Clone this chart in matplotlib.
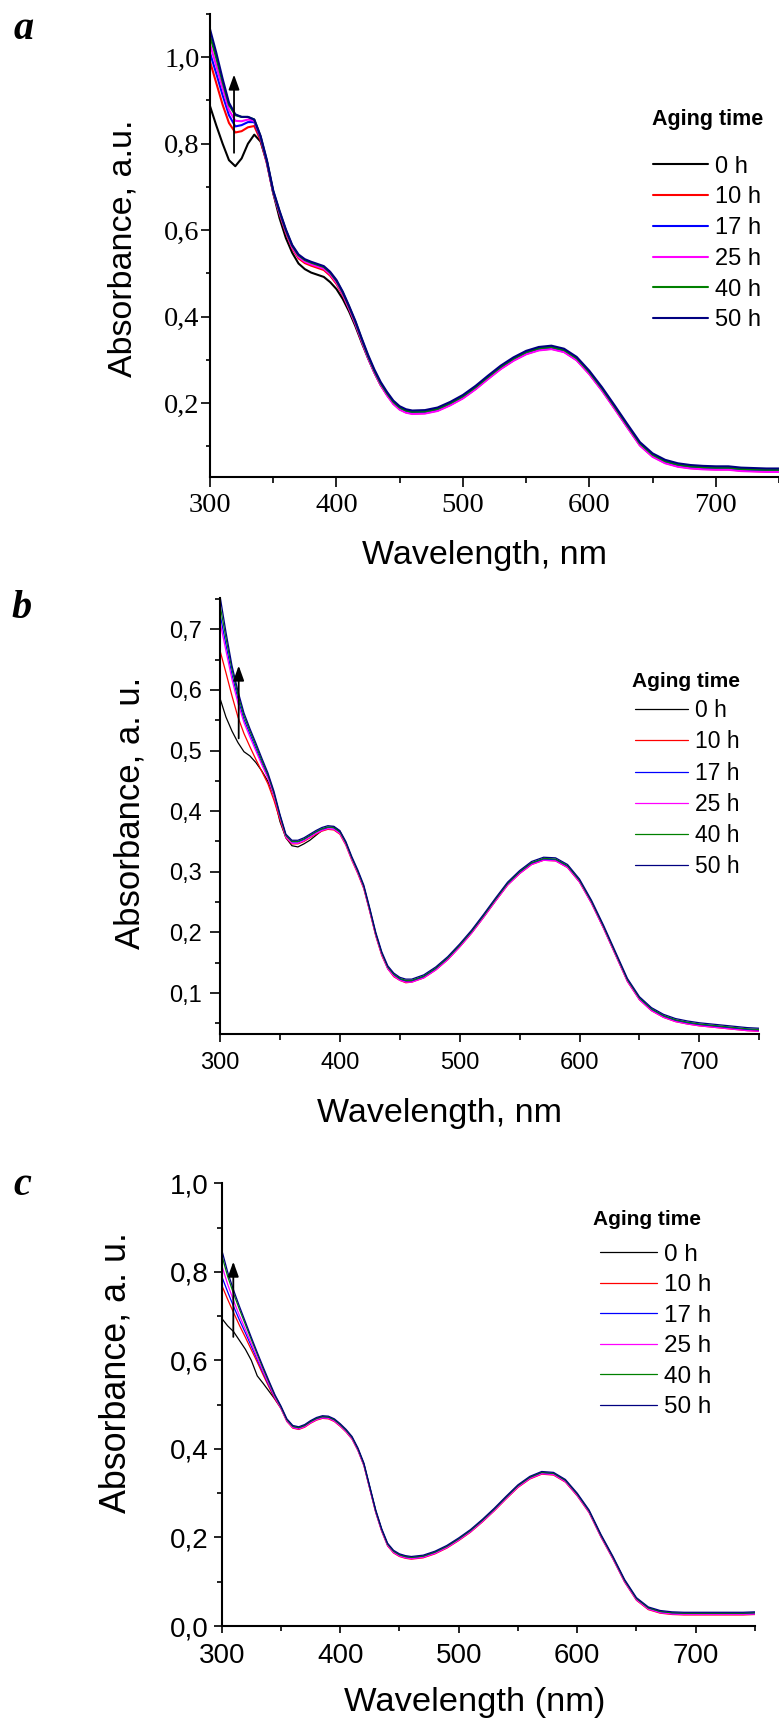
import matplotlib
matplotlib.use("Agg")
import matplotlib.pyplot as plt
from matplotlib.font_manager import FontProperties

# ---------------- data ----------------
wl = [300, 305, 310, 315, 320, 325, 330, 335, 340, 345,
      350, 355, 360, 365, 370, 375, 380, 385, 390, 395,
      400, 405, 410, 415, 420, 425, 430, 435, 440, 445, 450, 455, 460, 470,
      480, 490, 500, 510, 520, 530, 540, 550, 560, 570,
      580, 590, 600, 610, 620, 630, 640, 650, 660, 670,
      680, 690, 700, 710, 720, 730, 740, 750]

series_labels = ["0 h", "10 h", "17 h", "25 h", "40 h", "50 h"]
series_colors = ["#000000", "#FF0000", "#0000FF", "#FF00FF", "#008000", "#000080"]

# panel a
a_0h = [0.887, 0.842, 0.800, 0.762, 0.748, 0.766, 0.800, 0.821, 0.805, 0.758,
        0.686, 0.628, 0.582, 0.548, 0.523, 0.510, 0.502, 0.497, 0.492, 0.480,
        0.464, 0.441, 0.412, 0.378, 0.340, 0.304, 0.271, 0.242, 0.220, 0.200, 0.187, 0.180, 0.177, 0.178,
        0.184, 0.197, 0.213, 0.234, 0.258, 0.281, 0.300, 0.315, 0.324, 0.327,
        0.320, 0.301, 0.269, 0.231, 0.189, 0.146, 0.104, 0.078, 0.063, 0.055,
        0.051, 0.049, 0.048, 0.048, 0.045, 0.044, 0.043, 0.043]
a_10h = [0.990, 0.940, 0.890, 0.848, 0.826, 0.829, 0.838, 0.841, 0.808, 0.754,
         0.686, 0.638, 0.594, 0.558, 0.535, 0.524, 0.518, 0.513, 0.508, 0.495,
         0.476, 0.450, 0.418, 0.383, 0.343, 0.305, 0.271, 0.242, 0.219, 0.199, 0.186, 0.179, 0.176, 0.177,
         0.183, 0.196, 0.212, 0.233, 0.257, 0.280, 0.299, 0.314, 0.323, 0.326,
         0.319, 0.300, 0.268, 0.230, 0.188, 0.145, 0.103, 0.077, 0.062, 0.054,
         0.050, 0.048, 0.047, 0.047, 0.044, 0.043, 0.042, 0.042]
a_17h = [1.010, 0.962, 0.912, 0.866, 0.840, 0.843, 0.850, 0.850, 0.813, 0.757,
         0.688, 0.641, 0.598, 0.562, 0.540, 0.529, 0.523, 0.518, 0.513, 0.500,
         0.481, 0.454, 0.421, 0.386, 0.346, 0.307, 0.273, 0.244, 0.221, 0.201, 0.188, 0.181, 0.178, 0.179,
         0.185, 0.198, 0.214, 0.235, 0.259, 0.282, 0.301, 0.316, 0.325, 0.328,
         0.321, 0.302, 0.270, 0.232, 0.190, 0.147, 0.105, 0.079, 0.064, 0.056,
         0.052, 0.050, 0.049, 0.049, 0.046, 0.045, 0.044, 0.044]
a_25h = [1.030, 0.980, 0.928, 0.878, 0.853, 0.852, 0.856, 0.853, 0.815, 0.758,
         0.688, 0.640, 0.597, 0.560, 0.538, 0.527, 0.521, 0.516, 0.511, 0.498,
         0.479, 0.452, 0.419, 0.384, 0.344, 0.305, 0.271, 0.242, 0.218, 0.198, 0.185, 0.178, 0.175, 0.176,
         0.182, 0.195, 0.211, 0.232, 0.256, 0.279, 0.298, 0.313, 0.322, 0.325,
         0.318, 0.299, 0.267, 0.229, 0.187, 0.144, 0.102, 0.076, 0.061, 0.053,
         0.049, 0.047, 0.046, 0.046, 0.043, 0.042, 0.041, 0.041]
a_40h = [1.050, 0.998, 0.942, 0.890, 0.866, 0.862, 0.862, 0.856, 0.817, 0.760,
         0.690, 0.643, 0.600, 0.564, 0.542, 0.531, 0.525, 0.520, 0.515, 0.502,
         0.483, 0.456, 0.423, 0.388, 0.348, 0.309, 0.275, 0.246, 0.223, 0.203, 0.190, 0.183, 0.180, 0.181,
         0.187, 0.200, 0.216, 0.237, 0.261, 0.284, 0.303, 0.318, 0.327, 0.330,
         0.323, 0.304, 0.272, 0.234, 0.192, 0.149, 0.107, 0.081, 0.066, 0.058,
         0.054, 0.052, 0.051, 0.051, 0.048, 0.047, 0.046, 0.046]
a_50h = [1.065, 1.010, 0.950, 0.895, 0.868, 0.862, 0.862, 0.856, 0.818, 0.762,
         0.692, 0.645, 0.602, 0.566, 0.544, 0.533, 0.527, 0.522, 0.517, 0.504,
         0.485, 0.458, 0.425, 0.390, 0.350, 0.312, 0.278, 0.249, 0.226, 0.206, 0.193, 0.186, 0.183, 0.184,
         0.190, 0.203, 0.219, 0.240, 0.264, 0.287, 0.306, 0.321, 0.330, 0.333,
         0.326, 0.307, 0.275, 0.237, 0.195, 0.152, 0.110, 0.084, 0.069, 0.061,
         0.057, 0.055, 0.054, 0.054, 0.051, 0.050, 0.049, 0.049]

# panel b
b_0h = [0.586, 0.555, 0.532, 0.513, 0.498, 0.491, 0.480, 0.466, 0.449, 0.425,
        0.383, 0.356, 0.343, 0.341, 0.346, 0.352, 0.360, 0.368, 0.373, 0.374,
        0.367, 0.348, 0.322, 0.299, 0.274, 0.236, 0.196, 0.164, 0.141, 0.129, 0.122, 0.119, 0.119, 0.126,
        0.139, 0.156, 0.177, 0.200, 0.226, 0.253, 0.279, 0.298, 0.313, 0.320,
        0.319, 0.308, 0.284, 0.249, 0.208, 0.164, 0.120, 0.090, 0.072, 0.061,
        0.054, 0.050, 0.047, 0.045, 0.043, 0.041, 0.039, 0.038]
b_10h = [0.665, 0.628, 0.590, 0.555, 0.528, 0.506, 0.485, 0.465, 0.445, 0.418,
         0.386, 0.356, 0.346, 0.346, 0.350, 0.356, 0.362, 0.367, 0.370, 0.369,
         0.362, 0.344, 0.319, 0.297, 0.272, 0.234, 0.194, 0.162, 0.140, 0.127, 0.121, 0.117, 0.118, 0.125,
         0.138, 0.155, 0.176, 0.199, 0.225, 0.252, 0.278, 0.297, 0.312, 0.319,
         0.318, 0.307, 0.283, 0.248, 0.207, 0.163, 0.119, 0.089, 0.071, 0.060,
         0.053, 0.049, 0.046, 0.044, 0.042, 0.040, 0.038, 0.037]
b_17h = [0.725, 0.674, 0.625, 0.585, 0.551, 0.527, 0.503, 0.479, 0.457, 0.428,
         0.392, 0.359, 0.349, 0.349, 0.353, 0.359, 0.365, 0.370, 0.373, 0.372,
         0.365, 0.347, 0.322, 0.300, 0.275, 0.237, 0.197, 0.165, 0.142, 0.130, 0.123, 0.120, 0.120, 0.127,
         0.140, 0.157, 0.178, 0.201, 0.227, 0.254, 0.280, 0.299, 0.314, 0.321,
         0.320, 0.309, 0.285, 0.250, 0.209, 0.165, 0.121, 0.091, 0.073, 0.062,
         0.055, 0.051, 0.048, 0.046, 0.044, 0.042, 0.040, 0.039]
b_25h = [0.712, 0.664, 0.617, 0.578, 0.546, 0.522, 0.499, 0.476, 0.454, 0.425,
         0.390, 0.357, 0.347, 0.347, 0.351, 0.357, 0.363, 0.368, 0.371, 0.370,
         0.363, 0.345, 0.320, 0.298, 0.273, 0.235, 0.195, 0.163, 0.140, 0.128, 0.121, 0.118, 0.118, 0.125,
         0.138, 0.155, 0.176, 0.199, 0.225, 0.252, 0.278, 0.297, 0.312, 0.319,
         0.318, 0.307, 0.283, 0.248, 0.207, 0.163, 0.119, 0.089, 0.071, 0.060,
         0.053, 0.049, 0.046, 0.044, 0.042, 0.040, 0.038, 0.037]
b_40h = [0.740, 0.685, 0.634, 0.592, 0.557, 0.532, 0.508, 0.483, 0.460, 0.430,
         0.393, 0.360, 0.350, 0.350, 0.354, 0.360, 0.366, 0.371, 0.374, 0.373,
         0.366, 0.348, 0.323, 0.301, 0.276, 0.238, 0.198, 0.166, 0.143, 0.131, 0.124, 0.121, 0.121, 0.128,
         0.141, 0.158, 0.179, 0.202, 0.228, 0.255, 0.281, 0.300, 0.315, 0.322,
         0.321, 0.310, 0.286, 0.251, 0.210, 0.166, 0.122, 0.092, 0.074, 0.063,
         0.056, 0.052, 0.049, 0.047, 0.045, 0.043, 0.041, 0.040]
b_50h = [0.755, 0.695, 0.640, 0.598, 0.562, 0.536, 0.512, 0.487, 0.463, 0.433,
         0.395, 0.362, 0.352, 0.352, 0.356, 0.362, 0.368, 0.373, 0.376, 0.375,
         0.368, 0.350, 0.325, 0.303, 0.278, 0.240, 0.200, 0.168, 0.145, 0.133, 0.126, 0.123, 0.123, 0.130,
         0.143, 0.160, 0.181, 0.204, 0.230, 0.257, 0.283, 0.302, 0.317, 0.324,
         0.323, 0.312, 0.288, 0.253, 0.212, 0.168, 0.124, 0.094, 0.076, 0.065,
         0.058, 0.054, 0.051, 0.049, 0.047, 0.045, 0.043, 0.042]

# panel c
c_0h = [0.695, 0.678, 0.665, 0.645, 0.625, 0.600, 0.565, 0.548, 0.530, 0.512,
        0.493, 0.465, 0.449, 0.446, 0.452, 0.461, 0.468, 0.472, 0.471, 0.465,
        0.454, 0.441, 0.425, 0.399, 0.365, 0.312, 0.259, 0.217, 0.184, 0.168, 0.160, 0.156, 0.154, 0.157,
        0.166, 0.179, 0.196, 0.215, 0.238, 0.263, 0.290, 0.316, 0.335, 0.346,
        0.344, 0.328, 0.297, 0.259, 0.204, 0.155, 0.102, 0.061, 0.040, 0.032,
        0.029, 0.028, 0.028, 0.028, 0.028, 0.028, 0.028, 0.029]
c_10h = [0.770, 0.738, 0.708, 0.679, 0.652, 0.624, 0.596, 0.567, 0.539, 0.512,
         0.491, 0.462, 0.447, 0.444, 0.449, 0.458, 0.465, 0.469, 0.468, 0.462,
         0.451, 0.438, 0.422, 0.396, 0.362, 0.309, 0.256, 0.214, 0.181, 0.165, 0.157, 0.153, 0.151, 0.154,
         0.163, 0.176, 0.193, 0.212, 0.235, 0.260, 0.287, 0.313, 0.332, 0.343,
         0.341, 0.325, 0.294, 0.256, 0.201, 0.152, 0.099, 0.058, 0.037, 0.029,
         0.026, 0.025, 0.025, 0.025, 0.025, 0.025, 0.025, 0.026]
c_17h = [0.790, 0.755, 0.722, 0.691, 0.662, 0.632, 0.602, 0.572, 0.543, 0.515,
         0.493, 0.464, 0.449, 0.446, 0.451, 0.460, 0.467, 0.471, 0.470, 0.464,
         0.453, 0.440, 0.424, 0.398, 0.364, 0.311, 0.258, 0.216, 0.183, 0.167, 0.159, 0.155, 0.153, 0.156,
         0.165, 0.178, 0.195, 0.214, 0.237, 0.262, 0.289, 0.315, 0.334, 0.345,
         0.343, 0.327, 0.296, 0.258, 0.203, 0.154, 0.101, 0.060, 0.039, 0.031,
         0.028, 0.027, 0.027, 0.027, 0.027, 0.027, 0.027, 0.028]
c_25h = [0.815, 0.772, 0.735, 0.701, 0.670, 0.638, 0.606, 0.575, 0.545, 0.516,
         0.492, 0.463, 0.448, 0.445, 0.450, 0.459, 0.466, 0.470, 0.469, 0.463,
         0.452, 0.439, 0.423, 0.397, 0.363, 0.310, 0.257, 0.215, 0.182, 0.166, 0.158, 0.154, 0.152, 0.155,
         0.164, 0.177, 0.194, 0.213, 0.236, 0.261, 0.288, 0.314, 0.333, 0.344,
         0.342, 0.326, 0.295, 0.257, 0.202, 0.153, 0.100, 0.059, 0.038, 0.030,
         0.027, 0.026, 0.026, 0.026, 0.026, 0.026, 0.026, 0.027]
c_40h = [0.838, 0.790, 0.751, 0.715, 0.681, 0.647, 0.614, 0.581, 0.550, 0.520,
         0.495, 0.466, 0.451, 0.448, 0.453, 0.462, 0.469, 0.473, 0.472, 0.466,
         0.455, 0.442, 0.426, 0.400, 0.366, 0.313, 0.260, 0.218, 0.185, 0.169, 0.161, 0.157, 0.155, 0.158,
         0.167, 0.180, 0.197, 0.216, 0.239, 0.264, 0.291, 0.317, 0.336, 0.347,
         0.345, 0.329, 0.298, 0.260, 0.205, 0.156, 0.103, 0.062, 0.041, 0.033,
         0.030, 0.029, 0.029, 0.029, 0.029, 0.029, 0.029, 0.030]
c_50h = [0.850, 0.800, 0.759, 0.722, 0.687, 0.652, 0.618, 0.585, 0.553, 0.522,
         0.497, 0.468, 0.453, 0.450, 0.455, 0.464, 0.471, 0.475, 0.474, 0.468,
         0.457, 0.444, 0.428, 0.402, 0.368, 0.315, 0.262, 0.220, 0.187, 0.171, 0.163, 0.159, 0.157, 0.160,
         0.169, 0.182, 0.199, 0.218, 0.241, 0.266, 0.293, 0.319, 0.338, 0.349,
         0.347, 0.331, 0.300, 0.262, 0.207, 0.158, 0.105, 0.064, 0.043, 0.035,
         0.032, 0.031, 0.031, 0.031, 0.031, 0.031, 0.031, 0.032]

x_ticks = [300, 400, 500, 600, 700]
x_ticklabels = ["300", "400", "500", "600", "700"]
x_minor = [350, 450, 550, 650, 750]

a_yticks = [0.2, 0.4, 0.6, 0.8, 1.0]
a_yticklabels = ["0,2", "0,4", "0,6", "0,8", "1,0"]
a_yminor = [0.1, 0.3, 0.5, 0.7, 0.9, 1.1]
b_yticks = [0.1, 0.2, 0.3, 0.4, 0.5, 0.6, 0.7]
b_yticklabels = ["0,1", "0,2", "0,3", "0,4", "0,5", "0,6", "0,7"]
b_yminor = [0.05, 0.15, 0.25, 0.35, 0.45, 0.55, 0.65, 0.75]
c_yticks = [0.0, 0.2, 0.4, 0.6, 0.8, 1.0]
c_yticklabels = ["0,0", "0,2", "0,4", "0,6", "0,8", "1,0"]
c_yminor = [0.1, 0.3, 0.5, 0.7, 0.9]

# ---------------- layout helpers ----------------
W, H = 779.0, 1722.0
fig = plt.figure(figsize=(7.79, 17.22), dpi=100)


def fx(px):
    return px / W


def fy(py):
    return 1.0 - py / H


def rect(l, r, t, b):
    return [l / W, 1 - b / H, (r - l) / W, (b - t) / H]


SANS = "Liberation Sans"
SERIF = "Liberation Serif"


def panel(r, xlim, ylim, series, lw, yt, ytl, ymin, tickfont, ticksize,
          ypad, xpad, ymaj, ymi, xmaj, xmi):
    ax = fig.add_axes(rect(*r))
    lines = []
    for vals, col, lab in zip(series, series_colors, series_labels):
        ln, = ax.plot(wl, vals, color=col, lw=lw, label=lab,
                      solid_joinstyle="round", solid_capstyle="round")
        lines.append(ln)
    ax.set_xlim(*xlim)
    ax.set_ylim(*ylim)
    for s in ("top", "right"):
        ax.spines[s].set_visible(False)
    for s in ("left", "bottom"):
        ax.spines[s].set_linewidth(1.5)
    ax.set_xticks(x_ticks)
    ax.set_xticklabels(x_ticklabels)
    ax.set_xticks(x_minor, minor=True)
    ax.set_yticks(yt)
    ax.set_yticklabels(ytl)
    ax.set_yticks(ymin, minor=True)
    ax.tick_params(axis="both", which="both", direction="out", width=1.2)
    ax.tick_params(axis="y", which="major", length=ymaj, pad=ypad)
    ax.tick_params(axis="y", which="minor", length=ymi)
    ax.tick_params(axis="x", which="major", length=xmaj, pad=xpad)
    ax.tick_params(axis="x", which="minor", length=xmi)
    for t in ax.get_xticklabels() + ax.get_yticklabels():
        t.set_fontfamily(tickfont)
        t.set_fontsize(ticksize)
    return ax, lines


def ylabel(ax, text, x_base, y_center, size):
    ax.set_ylabel(text, fontfamily=SANS, fontsize=size,
                  va="baseline", ha="center", rotation=90, rotation_mode="anchor")
    ax.yaxis.set_label_coords(fx(x_base), fy(y_center), transform=fig.transFigure)


def xlabel(ax, text, x_left, y_top, size):
    ax.set_xlabel(text, fontfamily=SANS, fontsize=size, ha="left", va="top")
    ax.xaxis.set_label_coords(fx(x_left), fy(y_top), transform=fig.transFigure)


def legend(ax, lines, x_left, y_center, size, spacing, title, tx, ty, tsize):
    ax.legend(lines, series_labels, loc="center left",
              bbox_to_anchor=(fx(x_left), fy(y_center)), bbox_transform=fig.transFigure,
              frameon=False, borderpad=0, borderaxespad=0, handlelength=2.33,
              handletextpad=0.3, labelspacing=spacing,
              prop=FontProperties(family=SANS, size=size))
    fig.text(fx(tx), fy(ty), title, fontfamily=SANS, fontweight="bold",
             fontsize=tsize, ha="left", va="baseline")


def arrow(ax, x, y0, y1):
    ax.annotate("", xy=(x, y1), xytext=(x, y0),
                arrowprops=dict(arrowstyle="-|>,head_length=0.5,head_width=0.18",
                                color="black", lw=1.3, shrinkA=0, shrinkB=0,
                                mutation_scale=18))


# ---------------- panel a ----------------
ax_a, lines_a = panel((210, 779, 14, 476.7), (300, 748.5), (0.03, 1.1),
                      [a_0h, a_10h, a_17h, a_25h, a_40h, a_50h], 1.5,
                      a_yticks, a_yticklabels, a_yminor, SERIF, 20.5,
                      0.8, 4.7, 6.5, 3.0, 7.2, 4.3)
ylabel(ax_a, "Absorbance, a.u.", 132, 248.4, 24.5)
xlabel(ax_a, "Wavelength, nm", 362, 540, 24.5)
legend(ax_a, lines_a, 653, 243.4, 17, 0.37, "Aging time", 651.7, 125, 15.5)
arrow(ax_a, 319, 0.779, 0.96)

# ---------------- panel b ----------------
ax_b, lines_b = panel((220, 759.3, 598.3, 1034.3), (300, 750), (0.032, 0.751),
                      [b_0h, b_10h, b_17h, b_25h, b_40h, b_50h], 0.9,
                      b_yticks, b_yticklabels, b_yminor, SANS, 17,
                      6.0, 7.0, 7.2, 3.6, 6.0, 4.5)
ylabel(ax_b, "Absorbance, a. u.", 139, 813.3, 25)
xlabel(ax_b, "Wavelength, nm", 316.7, 1098.3, 24.5)
legend(ax_b, lines_b, 635, 788.7, 16.5, 0.36, "Aging time", 631.7, 686.7, 15)
arrow(ax_b, 315.6, 0.520, 0.640)

# ---------------- panel c ----------------
ax_c, lines_c = panel((221.7, 755, 1183.3, 1626), (300, 750), (0.0, 1.0),
                      [c_0h, c_10h, c_17h, c_25h, c_40h, c_50h], 0.9,
                      c_yticks, c_yticklabels, c_yminor, SANS, 20,
                      3.6, 7.2, 6.0, 3.6, 5.3, 3.6)
ylabel(ax_c, "Absorbance, a. u.", 126, 1372.5, 25.8)
xlabel(ax_c, "Wavelength (nm)", 344.5, 1686.7, 24.8)
legend(ax_c, lines_c, 600, 1331, 17.5, 0.35, "Aging time", 593.3, 1225, 15)
arrow(ax_c, 309.8, 0.653, 0.823)

# ---------------- panel letters ----------------
for letter, lx, ly in (("a", 13.3, 39.3), ("b", 11.7, 618.3), ("c", 13.3, 1195)):
    fig.text(fx(lx), fy(ly), letter, fontfamily=SERIF, fontweight="bold",
             fontstyle="italic", fontsize=29, ha="left", va="baseline")

fig.savefig("out.png", dpi=100)
